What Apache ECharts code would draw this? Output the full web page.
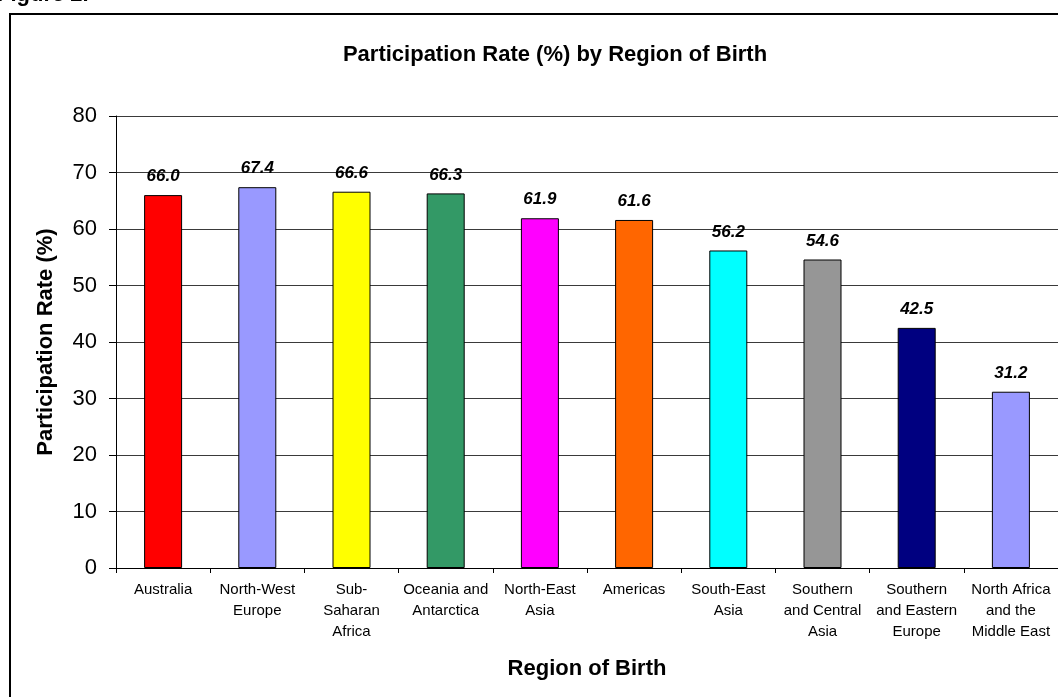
<!DOCTYPE html>
<html>
<head>
<meta charset="utf-8">
<script src="https://cdn.jsdelivr.net/npm/echarts@6/dist/echarts.min.js"></script>
<style>
html,body{margin:0;padding:0;background:#fff;}
#chart{width:1058px;height:697px;}
</style>
</head>
<body>
<div id="chart"></div>
<script>
const categories = [
  "Australia",
  "North-West\nEurope",
  "Sub-\nSaharan\nAfrica",
  "Oceania and\nAntarctica",
  "North-East\nAsia",
  "Americas",
  "South-East\nAsia",
  "Southern\nand Central\nAsia",
  "Southern\nand Eastern\nEurope",
  "North Africa\nand the\nMiddle East"
];
const values = [66.0, 67.4, 66.6, 66.3, 61.9, 61.6, 56.2, 54.6, 42.5, 31.2];
const barColors = ["#FF0000", "#9999FF", "#FFFF00", "#339966", "#FF00FF", "#FF6600", "#00FFFF", "#969696", "#000080", "#9999FF"];
const yTicks = [0, 10, 20, 30, 40, 50, 60, 70, 80];

const chart = echarts.init(document.getElementById('chart'), null, {renderer: 'canvas'});
const font = 'Arial, "Liberation Sans", sans-serif';
chart.setOption({
  animation: false,
  backgroundColor: '#ffffff',
  title: {
    text: 'Participation Rate (%) by Region of Birth',
    left: 550, top: 39, textAlign: 'center',
    textStyle: {fontFamily: font, fontSize: 22, fontWeight: 'bold', color: '#000'}
  },
  graphic: [
    {type: 'rect', shape: {x: 10, y: 14, width: 1200, height: 900},
     style: {fill: 'none', stroke: '#000', lineWidth: 2}, z: -1},
    {type: 'text', left: -3, top: -16,
     style: {text: 'Figure 2.', font: 'bold 22px Arial, "Liberation Sans", sans-serif', fill: '#000'}}
  ],
  grid: {left: 116, right: -1, top: 116, bottom: 129, containLabel: false},
  xAxis: {
    type: 'category',
    data: categories,
    name: 'Region of Birth',
    nameLocation: 'middle',
    nameGap: 90,
    nameTextStyle: {fontFamily: font, fontSize: 22, fontWeight: 'bold', color: '#000'},
    axisLine: {lineStyle: {color: '#000', width: 1}},
    axisTick: {show: true, length: 5, lineStyle: {color: '#000'}},
    axisLabel: {interval: 0, fontFamily: font, fontSize: 15, color: '#000', lineHeight: 21, margin: 11},
    splitLine: {show: false}
  },
  yAxis: {
    type: 'value',
    min: 0, max: 80, interval: 10,
    name: 'Participation Rate (%)',
    nameLocation: 'middle',
    nameRotate: 90,
    nameGap: 59,
    nameTextStyle: {fontFamily: font, fontSize: 22, fontWeight: 'bold', color: '#000'},
    axisLine: {show: true, lineStyle: {color: '#000', width: 1}},
    axisTick: {show: true, length: 7, lineStyle: {color: '#000'}},
    axisLabel: {fontFamily: font, fontSize: 22, color: '#000', margin: 19,
      formatter: v => yTicks.includes(v) ? String(v) : ''},
    splitLine: {show: true, lineStyle: {color: '#3a3a3a', width: 1}}
  },
  series: [{
    type: 'bar',
    data: values.map((v, i) => ({value: v, itemStyle: {color: barColors[i]}})),
    barWidth: 38,
    itemStyle: {borderColor: '#000', borderWidth: 1},
    label: {
      show: true, position: 'top', distance: 10,
      formatter: p => p.value.toFixed(1),
      fontFamily: font, fontSize: 17, fontWeight: 'bold', fontStyle: 'italic', color: '#000'
    }
  }]
});
</script>
</body>
</html>
